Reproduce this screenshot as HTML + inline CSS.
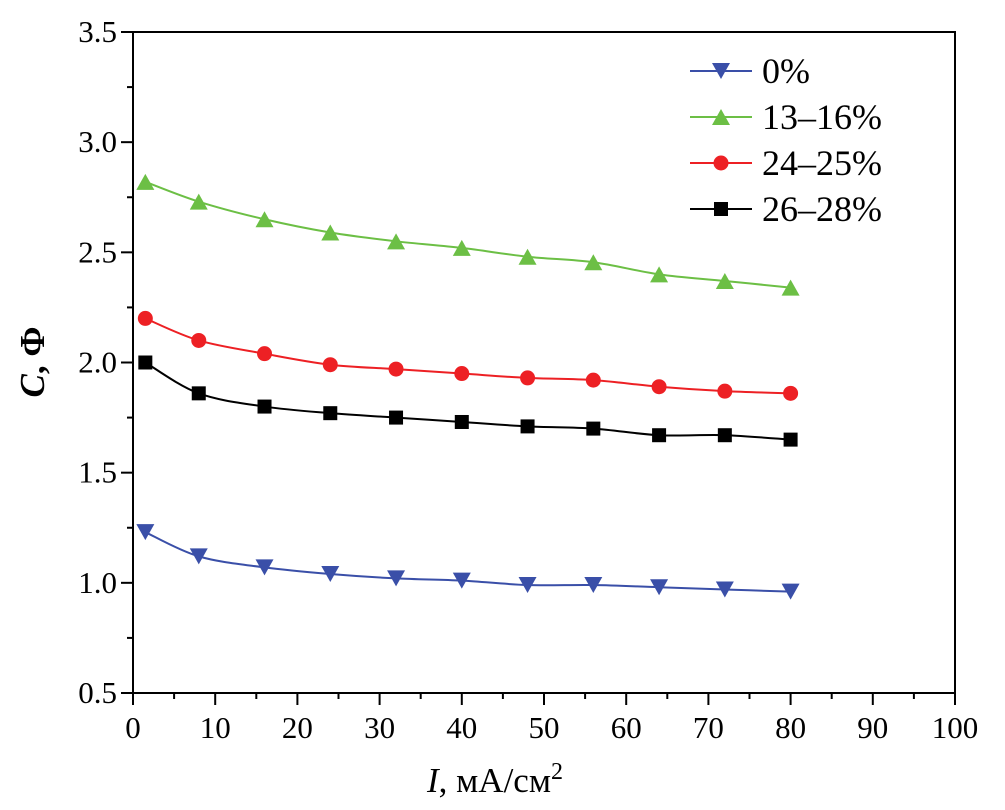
<!DOCTYPE html>
<html><head><meta charset="utf-8"><style>
body{margin:0;background:#fff;}
svg{display:block;font-family:"Liberation Serif",serif;}
</style></head><body>
<svg id="chart" width="1005" height="810" viewBox="0 0 1005 810"></svg>
<script>
const xValues=[1.5,8,16,24,32,40,48,56,64,72,80];
const s0=[1.23,1.12,1.07,1.04,1.02,1.01,0.99,0.99,0.98,0.97,0.96];
const s13=[2.82,2.73,2.65,2.59,2.55,2.52,2.48,2.455,2.40,2.37,2.34];
const s24=[2.20,2.10,2.04,1.99,1.97,1.95,1.93,1.92,1.89,1.87,1.86];
const s26=[2.00,1.86,1.80,1.77,1.75,1.73,1.71,1.70,1.67,1.67,1.65];
const seriesNames=["0%","13\u201316%","24\u201325%","26\u201328%"];
const xTicks=[0,10,20,30,40,50,60,70,80,90,100];
const yTicks=[0.5,1.0,1.5,2.0,2.5,3.0,3.5];
const yTickLabels=["0.5","1.0","1.5","2.0","2.5","3.0","3.5"];

const L=133,R=955,T=32,B=693;
const X=v=>L+(v-0)/100*(R-L);
const Y=v=>B-(v-0.5)/3*(B-T);
const svg=document.getElementById('chart');
const NS='http://www.w3.org/2000/svg';
function mk(tag,attrs,parent){const e=document.createElementNS(NS,tag);for(const k in attrs)e.setAttribute(k,attrs[k]);(parent||svg).appendChild(e);return e;}

const frame=mk('rect',{x:L,y:T,width:R-L,height:B-T,fill:'none',stroke:'#000','stroke-width':2});



for(let v=0;v<=100;v+=5){
  const major=v%10===0;
  const t=mk('line',{x1:X(v),x2:X(v),y1:B,y2:B+(major?12:6),stroke:'#000','stroke-width':2});
  
  
}
xTicks.forEach(v=>{
  const t=mk('text',{x:X(v),y:B+45,'text-anchor':'middle','font-size':31});
  t.textContent=v;
  
  
});
for(let i=0;i<=12;i++){
  const v=0.5+i*0.25;const major=i%2===0;
  const t=mk('line',{x1:L-(major?12:6),x2:L,y1:Y(v),y2:Y(v),stroke:'#000','stroke-width':2});
  
  
}
yTicks.forEach((v,i)=>{
  const t=mk('text',{x:L-16,y:Y(v)+10,'text-anchor':'end','font-size':31});
  t.textContent=yTickLabels[i];
  
  
});

const xt=mk('text',{x:495,y:792,'text-anchor':'middle','font-size':35});
xt.innerHTML='<tspan font-style="italic">I</tspan>, мА/см<tspan font-size="24" dy="-13">2</tspan>';


const yt=mk('text',{x:0,y:0,'text-anchor':'middle','font-size':35,'font-weight':'bold',transform:'translate(44,362) rotate(-90)'});
yt.innerHTML='<tspan font-style="italic">C</tspan>, Ф';



const colors=['#3a4fa8','#6cbf45','#ed2024','#000'];
const shapes=['down','up','circle','square'];
const allSeries=[s0,s13,s24,s26];

function marker(g,shape,cx,cy,c){
  if(shape==='down')return mk('polygon',{points:`${cx-9},${cy-8} ${cx+9},${cy-8} ${cx},${cy+8}`,fill:c},g);
  if(shape==='up')return mk('polygon',{points:`${cx-9},${cy+8} ${cx+9},${cy+8} ${cx},${cy-8}`,fill:c},g);
  if(shape==='circle')return mk('circle',{cx:cx,cy:cy,r:7.5,fill:c},g);
  return mk('rect',{x:cx-7,y:cy-7,width:14,height:14,fill:c},g);
}
function smoothPath(pts){
  let d=`M${pts[0][0]},${pts[0][1]}`;
  for(let i=0;i<pts.length-1;i++){
    const p0=pts[Math.max(0,i-1)],p1=pts[i],p2=pts[i+1],p3=pts[Math.min(pts.length-1,i+2)];
    const c1=[p1[0]+(p2[0]-p0[0])/6,p1[1]+(p2[1]-p0[1])/6];
    const c2=[p2[0]-(p3[0]-p1[0])/6,p2[1]-(p3[1]-p1[1])/6];
    d+=` C${c1[0]},${c1[1]} ${c2[0]},${c2[1]} ${p2[0]},${p2[1]}`;
  }
  return d;
}
allSeries.forEach((s,k)=>{
  const g=mk('g',{});
  
  
  const pts=s.map((v,i)=>[X(xValues[i]),Y(v)]);
  const p=mk('path',{d:smoothPath(pts),fill:'none',stroke:colors[k],'stroke-width':2},g);
  
  
  pts.forEach(q=>{
    const m=marker(g,shapes[k],q[0],q[1],colors[k]);
    
    
  });
  const ly=71+k*46;
  const lg=mk('g',{});
  
  
  mk('line',{x1:690,x2:752,y1:ly,y2:ly,stroke:colors[k],'stroke-width':2},lg);
  marker(lg,shapes[k],721,ly,colors[k]);
  const lt=mk('text',{x:762,y:ly+12,'font-size':36},lg);
  lt.textContent=seriesNames[k];
});
</script>
</body></html>
